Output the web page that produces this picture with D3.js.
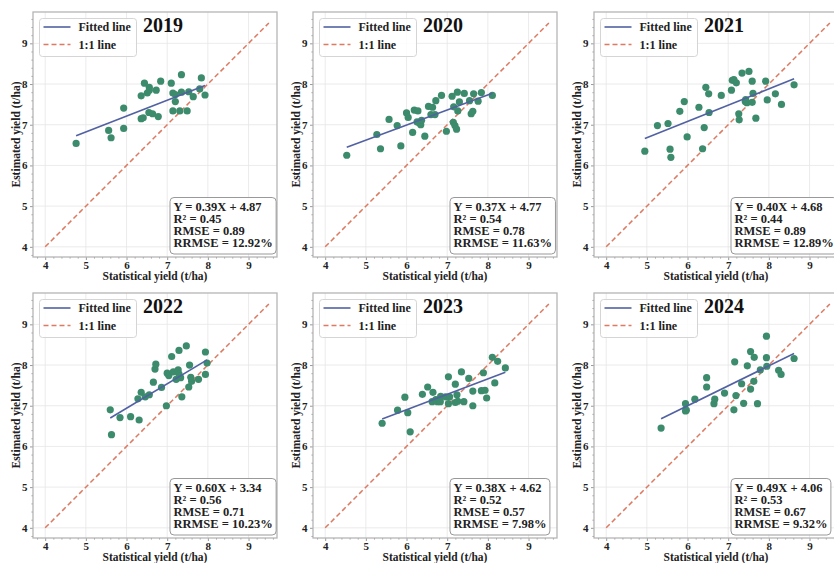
<!DOCTYPE html>
<html>
<head>
<meta charset="utf-8">
<script src="https://cdn.jsdelivr.net/npm/d3@7"></script>
<style>
  body { margin: 0; background: #fff; }
  text { font-family: "Liberation Serif", "Times New Roman", serif; font-weight: bold; }
</style>
</head>
<body>
<div id="chart"></div>
<script>
// yield comparison, one panel per year
var years = [2019, 2020, 2021, 2022, 2023, 2024];
var slopes = [0.39, 0.37, 0.40, 0.60, 0.38, 0.49];
var intercepts = [4.87, 4.77, 4.68, 3.34, 4.62, 4.06];
var r2 = [0.45, 0.54, 0.44, 0.56, 0.52, 0.53];
var rmse = [0.89, 0.78, 0.89, 0.71, 0.57, 0.67];
var rrmse = [12.92, 11.63, 12.89, 10.23, 7.98, 9.32];
var ticks = [4, 5, 6, 7, 8, 9];

// statistical (x) and estimated (y) yields
var x2019 = [4.76, 5.56, 5.62, 5.93, 5.93, 6.36, 6.36, 6.41, 6.44, 6.51, 6.56, 6.56, 6.55, 6.64, 6.73, 6.78, 6.84, 7.10, 7.14, 7.14, 7.20, 7.20, 7.35, 7.35, 7.31, 7.49, 7.53, 7.64, 7.80, 7.84, 7.93];
var y2019 = [6.54, 6.86, 6.68, 7.41, 6.91, 7.71, 7.15, 7.17, 8.02, 7.78, 7.92, 7.85, 7.30, 7.27, 7.85, 7.20, 8.07, 8.02, 7.78, 7.34, 7.74, 7.57, 8.23, 7.80, 7.34, 7.34, 7.81, 7.69, 7.88, 8.15, 7.73];

var x2020 = [4.53, 5.27, 5.36, 5.57, 5.77, 5.86, 6.00, 6.04, 6.15, 6.19, 6.28, 6.26, 6.31, 6.35, 6.37, 6.45, 6.54, 6.64, 6.60, 6.70, 6.72, 6.86, 6.98, 7.12, 7.16, 7.15, 7.19, 7.23, 7.25, 7.26, 7.30, 7.42, 7.55, 7.59, 7.63, 7.65, 7.76, 7.84, 8.11];
var y2020 = [6.25, 6.76, 6.41, 7.13, 6.98, 6.48, 7.29, 7.18, 6.81, 7.36, 7.34, 7.07, 7.05, 7.00, 7.11, 6.72, 7.45, 7.43, 7.25, 7.25, 7.59, 7.72, 6.84, 7.70, 7.44, 7.06, 6.98, 6.89, 7.80, 7.34, 7.56, 7.77, 7.59, 7.27, 7.33, 7.76, 7.58, 7.79, 7.72];

var x2021 = [4.95, 5.26, 5.52, 5.57, 5.59, 5.81, 5.92, 5.99, 6.28, 6.37, 6.41, 6.45, 6.52, 6.53, 6.83, 7.08, 7.10, 7.14, 7.20, 7.26, 7.27, 7.34, 7.42, 7.43, 7.46, 7.51, 7.59, 7.59, 7.61, 7.68, 7.92, 7.96, 8.16, 8.31, 8.62];
var y2021 = [6.35, 6.98, 7.03, 6.40, 6.20, 7.33, 7.57, 6.70, 7.43, 6.41, 6.93, 7.92, 7.76, 7.30, 7.72, 7.85, 8.09, 8.11, 8.03, 7.27, 7.12, 8.27, 7.57, 7.62, 7.54, 8.31, 7.55, 8.07, 7.77, 7.16, 8.07, 7.61, 7.76, 7.50, 7.98];

var x2022 = [5.60, 5.63, 5.84, 6.10, 6.31, 6.28, 6.36, 6.46, 6.56, 6.66, 6.70, 6.72, 6.86, 6.98, 7.00, 7.04, 7.11, 7.15, 7.22, 7.27, 7.29, 7.29, 7.33, 7.36, 7.47, 7.53, 7.55, 7.58, 7.60, 7.77, 7.94, 7.94, 7.98];
var y2022 = [6.90, 6.29, 6.71, 6.73, 6.65, 7.17, 7.33, 7.22, 7.27, 7.58, 7.90, 8.02, 7.45, 7.00, 7.80, 7.74, 8.21, 7.83, 7.65, 7.88, 8.36, 7.78, 7.69, 7.22, 8.47, 7.46, 8.00, 7.70, 7.60, 7.65, 8.32, 7.77, 8.05];

var x2023 = [5.40, 5.78, 5.96, 6.03, 6.09, 6.39, 6.52, 6.65, 6.63, 6.72, 6.76, 6.80, 6.84, 6.83, 6.96, 7.03, 7.03, 7.06, 7.20, 7.20, 7.24, 7.26, 7.35, 7.41, 7.53, 7.63, 7.63, 7.84, 7.89, 7.93, 7.97, 8.11, 8.17, 8.24, 8.43];
var y2023 = [6.57, 6.89, 7.21, 6.83, 6.36, 7.28, 7.46, 7.33, 7.10, 7.15, 7.10, 7.15, 7.23, 7.10, 7.22, 7.71, 7.05, 7.22, 7.53, 7.08, 7.27, 7.11, 7.83, 7.10, 7.67, 7.00, 7.36, 7.37, 7.81, 7.38, 7.19, 8.19, 7.56, 8.09, 7.93];

var x2024 = [5.35, 5.95, 5.95, 5.97, 6.18, 6.47, 6.47, 6.65, 6.67, 6.91, 7.14, 7.16, 7.19, 7.33, 7.38, 7.47, 7.55, 7.55, 7.63, 7.64, 7.72, 7.79, 7.94, 7.94, 7.95, 8.24, 8.30, 8.62];
var y2024 = [6.45, 6.87, 7.05, 6.89, 7.16, 7.69, 7.46, 7.05, 7.16, 7.31, 6.90, 8.08, 7.25, 7.54, 7.06, 7.98, 8.33, 7.41, 7.60, 8.19, 7.05, 7.88, 8.71, 8.18, 7.97, 7.87, 7.77, 8.16];

var xs = [x2019, x2020, x2021, x2022, x2023, x2024];
var ys = [y2019, y2020, y2021, y2022, y2023, y2024];

var width = 834, height = 563;
var panelW = 244, panelH = 245;
var lefts = [33, 313, 594], tops = [12, 293];

var svg = d3.select("#chart").append("svg")
    .attr("width", width)
    .attr("height", height);

var x = d3.scaleLinear().domain([3.7, 9.7]).range([0, panelW]);
var y = d3.scaleLinear().domain([3.75, 9.77]).range([panelH, 0]);

var minor = d3.range(3.8, 9.7, 0.2).filter(function(v) { return Math.abs(v - Math.round(v)) > 0.01; });

years.forEach(function(year, i) {
    var g = svg.append("g")
        .attr("transform", "translate(" + lefts[i % 3] + "," + tops[Math.floor(i / 3)] + ")");

    // grid
    g.selectAll(".gx").data(ticks).enter().append("line")
        .attr("x1", function(d) { return x(d); }).attr("x2", function(d) { return x(d); })
        .attr("y1", 0).attr("y2", panelH)
        .attr("stroke", "#e6e6e6").attr("stroke-width", 0.8);
    g.selectAll(".gy").data(ticks).enter().append("line")
        .attr("y1", function(d) { return y(d); }).attr("y2", function(d) { return y(d); })
        .attr("x1", 0).attr("x2", panelW)
        .attr("stroke", "#e6e6e6").attr("stroke-width", 0.8);

    // axes
    g.append("g").attr("transform", "translate(0," + panelH + ")")
        .call(d3.axisBottom(x).tickValues(ticks).tickSize(3).tickPadding(1.5).tickFormat(d3.format("d")));
    g.append("g").attr("transform", "translate(0," + panelH + ")")
        .call(d3.axisBottom(x).tickValues(minor).tickSize(1.5).tickFormat(""));
    g.append("g")
        .call(d3.axisLeft(y).tickValues(ticks).tickSize(3).tickPadding(2.5).tickFormat(d3.format("d")));
    g.append("g")
        .call(d3.axisLeft(y).tickValues(minor).tickSize(1.5).tickFormat(""));
    g.selectAll(".domain").remove();
    g.selectAll(".tick line").attr("stroke", "#999");
    g.selectAll(".tick text").attr("font-size", "11px").attr("fill", "#222")
        .style("font-family", "Liberation Serif").style("font-weight", "bold");

    // frame
    g.append("rect")
        .attr("width", panelW).attr("height", panelH)
        .attr("fill", "none").attr("stroke", "#b5b5b5").attr("stroke-width", 1.3);

    // 1:1 line
    g.append("line")
        .attr("x1", x(4)).attr("y1", y(4)).attr("x2", x(9.5)).attr("y2", y(9.5))
        .attr("stroke", "#dd7a62").attr("stroke-width", 1.5)
        .attr("stroke-dasharray", "5,3");

    // points
    var pts = xs[i].map(function(v, k) { return [v, ys[i][k]]; });
    g.selectAll(".dot").data(pts).enter().append("circle")
        .attr("cx", function(d) { return x(d[0]); })
        .attr("cy", function(d) { return y(d[1]); })
        .attr("r", 3.6)
        .attr("fill", "#3b8b6c");

    // fitted line
    var ext = d3.extent(xs[i]);
    g.append("line")
        .attr("x1", x(ext[0])).attr("y1", y(slopes[i] * ext[0] + intercepts[i]))
        .attr("x2", x(ext[1])).attr("y2", y(slopes[i] * ext[1] + intercepts[i]))
        .attr("stroke", "#5161a3").attr("stroke-width", 1.6);

    // legend
    var lg = g.append("g").attr("transform", "translate(6.5,6.5)");
    lg.append("rect").attr("width", 97).attr("height", 38).attr("rx", 3)
        .attr("fill", "#fff").attr("fill-opacity", 0.85)
        .attr("stroke", "#d5d5d5").attr("stroke-width", 1);
    lg.append("line").attr("x1", 4).attr("x2", 31).attr("y1", 8.5).attr("y2", 8.5)
        .attr("stroke", "#5161a3").attr("stroke-width", 1.6);
    lg.append("line").attr("x1", 4).attr("x2", 31).attr("y1", 26).attr("y2", 26)
        .attr("stroke", "#dd7a62").attr("stroke-width", 1.5).attr("stroke-dasharray", "5,3");
    lg.append("text").attr("x", 39).attr("y", 12.5).attr("font-size", "12px").attr("fill", "#222").text("Fitted line");
    lg.append("text").attr("x", 39).attr("y", 30).attr("font-size", "12px").attr("fill", "#222").text("1:1 line");

    // title
    g.append("text").attr("x", 110).attr("y", 19.7)
        .attr("font-size", "20px").attr("fill", "#111").text(year);

    // stats box
    var lines = [
        "Y = " + slopes[i].toFixed(2) + "X + " + intercepts[i].toFixed(2),
        "R\u00b2 = " + r2[i].toFixed(2),
        "RMSE = " + rmse[i].toFixed(2),
        "RRMSE = " + rrmse[i].toFixed(2) + "%"
    ];
    var sb = g.append("g").attr("transform", "translate(137," + 185.5 + ")");
    var box = sb.append("rect").attr("height", 56.5).attr("rx", 4)
        .attr("fill", "#fff").attr("fill-opacity", 0.9)
        .attr("stroke", "#999").attr("stroke-width", 1);
    var maxW = 0;
    lines.forEach(function(t, k) {
        var tx = sb.append("text").attr("x", 3.5).attr("y", 13.2 + k * 12.2)
            .attr("font-size", "12.5px").attr("fill", "#222").text(t);
        maxW = Math.max(maxW, tx.node().getComputedTextLength());
    });
    box.attr("width", maxW + 7);

    // axis titles
    g.append("text").attr("x", panelW / 2).attr("y", panelH + 23)
        .attr("text-anchor", "middle").attr("font-size", "11.5px").attr("fill", "#222")
        .text("Statistical yield (t/ha)");
    g.append("text").attr("transform", "translate(-13," + (panelH / 2) + ") rotate(-90)")
        .attr("text-anchor", "middle").attr("font-size", "11.5px").attr("fill", "#222")
        .text("Estimated yield (t/ha)");
});
</script>
</body>
</html>
